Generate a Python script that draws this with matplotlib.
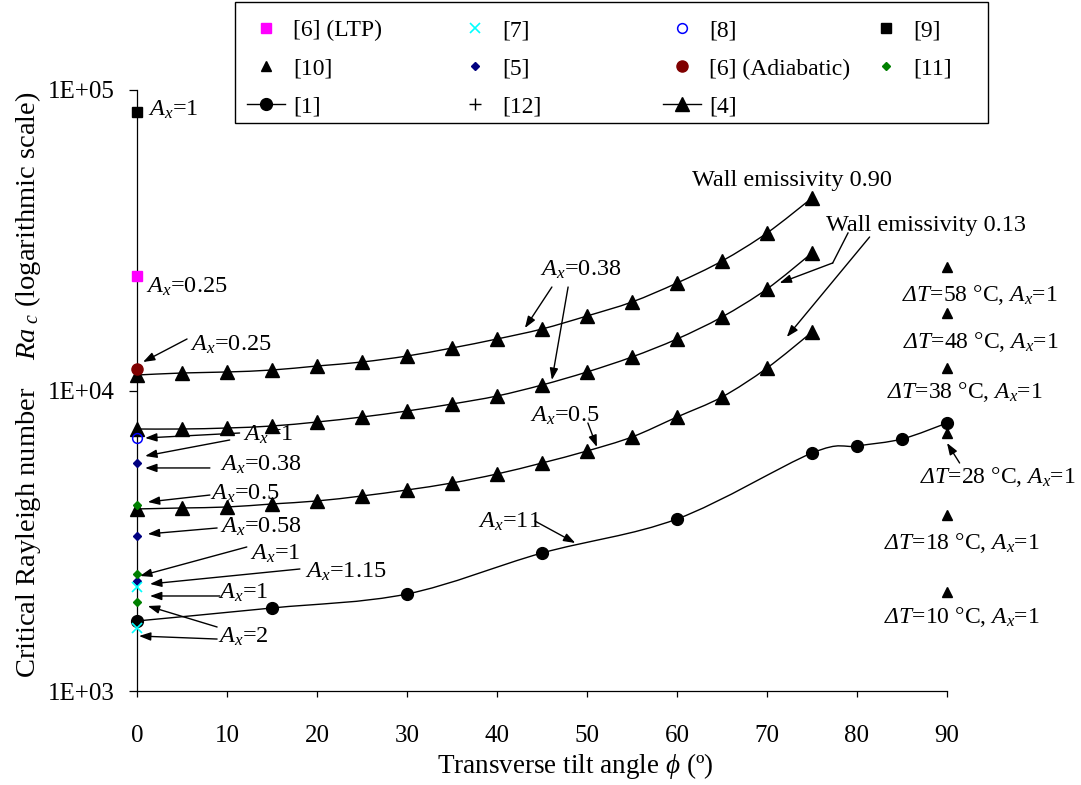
# import packages
import numpy as np
import matplotlib

matplotlib.use("Agg")
import matplotlib.pyplot as plt
from matplotlib.path import Path
from matplotlib.patches import PathPatch, Rectangle
from matplotlib.lines import Line2D
from matplotlib.ticker import NullLocator

# fonts: Times-like serif, math in the same family
plt.rcParams["font.family"] = ["Liberation Serif", "DejaVu Serif"]
plt.rcParams["mathtext.fontset"] = "custom"
plt.rcParams["mathtext.rm"] = "Liberation Serif"
plt.rcParams["mathtext.it"] = "Liberation Serif:italic"
plt.rcParams["mathtext.sf"] = "Liberation Serif:italic"

# data
tilt_4 = [0, 5, 10, 15, 20, 25, 30, 35, 40, 45, 50, 55, 60, 65, 70, 75]
ra_4_ax038_e090 = [11260, 11435, 11525, 11700, 12065, 12440, 13025, 13850,
                   14840, 16020, 17700, 19705, 22790, 26970, 33430, 43710]
ra_4_ax038_e013 = [7445, 7445, 7502, 7619, 7855, 8162, 8547, 9017,
                   9587, 10430, 11525, 12930, 14840, 17565, 21770, 28680]
ra_4_ax05_e013 = [4035, 4065, 4096, 4192, 4290, 4457, 4667, 4923,
                  5275, 5738, 6291, 7004, 8162, 9515, 11880, 15650]

tilt_1 = [0, 15, 30, 45, 60, 75, 80, 85, 90]
ra_1 = [1710, 1889, 2103, 2879, 3736, 6194, 6537, 6897, 7795]

# single studies at phi = 0
ra_6_ltp = [24040]
ra_6_adiabatic = [11790]
ra_7 = [2218, 1620]
ra_8 = [6950]
ra_9 = [84500]
ra_5 = [5738, 3280, 2323]
ra_11 = [4159, 2451, 1979]

# [10] at phi = 90 for several delta T
dt_10 = [58, 48, 38, 28, 18, 10]
ra_10 = [25760, 18110, 11880, 7221, 3852, 2136]

x_ticks = [0, 10, 20, 30, 40, 50, 60, 70, 80, 90]
y_ticks = [1e3, 1e4, 1e5]
y_tick_labels = ["1E+03", "1E+04", "1E+05"]

# annotation text positions (data coords), left aligned
notes = [
    ("$A_x$=1", 1.22, 85800),
    ("$A_x$=0.25", 1.0, 22100),
    ("$A_x$=0.25", 5.9, 14170),
    ("$A_x$=0.38", 44.8, 25180),
    ("Wall emissivity 0.90", 61.7, 49800),
    ("Wall emissivity 0.13", 76.6, 35540),
    ("$A_x$=0.5", 43.7, 8225),
    ("$A_x$=11", 37.9, 3650),
    ("$A_x$=1", 11.8, 7110),
    ("$A_x$=0.38", 9.2, 5650),
    ("$A_x$=0.5", 8.1, 4525),
    ("$A_x$=0.58", 9.2, 3514),
    ("$A_x$=1", 12.6, 2857),
    ("$A_x$=1.15", 18.7, 2489),
    ("$A_x$=1", 9.0, 2119),
    ("$A_x$=2", 9.0, 1512),
]
dt_note_pos = [(93.7, 20790), (93.8, 14500), (92.0, 9886),
               (95.6, 5153), (91.6, 3108), (91.6, 1763)]

# arrows (tail, head)
arrows = [
    ((5.56, 14840), (0.67, 12440)),
    ((46.1, 22100), (43.1, 16140)),
    ((47.9, 22100), (46.1, 10840)),
    ((77.3, 26570), (71.4, 22790)),
    ((81.4, 32420), (72.2, 15070)),
    ((50.1, 7795), (51.1, 6486)),
    ((44.2, 3679), (48.7, 3108)),
    ((91.4, 5738), (90.0, 6689)),
    ((11.4, 7220), (0.9, 6950)),
    ((10.3, 6844), (0.9, 6054)),
    ((8.1, 5524), (0.9, 5524)),
    ((8.1, 4489), (1.2, 4256)),
    ((8.9, 3487), (1.2, 3331)),
    ((12.2, 3015), (0.33, 2414)),
    ((18.1, 2547), (1.44, 2271)),
    ((9.2, 2071), (1.44, 2071)),
    ((8.9, 1633), (1.2, 1918)),
    ((8.9, 1489), (0.22, 1524)),
]
# the bent leader of "Wall emissivity 0.13"
bent_leader = ([79.0, 77.3], [33430, 26570])


def smooth_path(xs, ys):
    # Excel style smoothed line, bezier through points in (x, log y)
    lx = np.asarray(xs, float)
    ly = np.log10(np.asarray(ys, float))
    n = len(lx)
    verts = [(lx[0], ly[0])]
    codes = [Path.MOVETO]
    for i in range(n - 1):
        a = max(i - 1, 0)
        b = min(i + 2, n - 1)
        c1 = (lx[i] + (lx[i + 1] - lx[a]) / 6, ly[i] + (ly[i + 1] - ly[a]) / 6)
        c2 = (lx[i + 1] - (lx[b] - lx[i]) / 6, ly[i + 1] - (ly[b] - ly[i]) / 6)
        verts += [c1, c2, (lx[i + 1], ly[i + 1])]
        codes += [Path.CURVE4] * 3
    verts = [(x, 10 ** y) for x, y in verts]
    return Path(verts, codes)


fig = plt.figure(figsize=(10.81, 7.85), dpi=100)
ax = fig.add_axes([137 / 1081, 1 - 691 / 785, 810 / 1081, 601 / 785])
ax.set_yscale("log")
ax.set_xlim(0, 90)
ax.set_ylim(1e3, 1e5)

# smoothed series with markers
for ys in (ra_4_ax038_e090, ra_4_ax038_e013, ra_4_ax05_e013):
    ax.add_patch(PathPatch(smooth_path(tilt_4, ys), fill=False,
                           edgecolor="black", lw=1.0, zorder=2))
    ax.plot(tilt_4, ys, ls="none", marker="^", ms=9.5, color="black",
            clip_on=False, zorder=3)
ax.add_patch(PathPatch(smooth_path(tilt_1, ra_1), fill=False,
                       edgecolor="black", lw=1.0, zorder=2))
ax.plot(tilt_1, ra_1, ls="none", marker="o", ms=8.5, color="black",
        clip_on=False, zorder=3)

# single points
kw = dict(ls="none", clip_on=False, zorder=4)
ax.plot([0] * len(ra_9), ra_9, marker="s", ms=7, color="black", **kw)
ax.plot([0] * len(ra_6_ltp), ra_6_ltp, marker="s", ms=7, color="#FF00FF", **kw)
ax.plot([0] * len(ra_6_adiabatic), ra_6_adiabatic, marker="o", ms=8,
        color="#800000", **kw)
ax.plot([0] * len(ra_8), ra_8, marker="o", ms=7, mfc="none", mec="#0000FF",
        mew=1.1, **kw)
ax.plot([0] * len(ra_5), ra_5, marker="D", ms=4.5, color="#000080", **kw)
ax.plot([0] * len(ra_11), ra_11, marker="D", ms=4.5, color="#008000", **kw)
ax.plot([0] * len(ra_7), ra_7, marker="x", ms=7, mew=1.2, color="#00FFFF", **kw)
ax.plot([90] * len(ra_10), ra_10, marker="^", ms=6.5, color="black", **kw)

# annotations
for txt, x, y in notes:
    ax.text(x, y, txt, fontsize=17.5, ha="left", va="center")
for dt, (x, y) in zip(dt_10, dt_note_pos):
    ax.text(x, y, "$\\mathsf{\\Delta}T$=%d \u00b0C, $A_x$=1" % dt,
            fontsize=17, ha="center", va="center", clip_on=False)
for tail, head in arrows:
    ax.annotate("", xy=head, xytext=tail, annotation_clip=False,
                arrowprops=dict(arrowstyle="-|>,head_length=0.7,head_width=0.25",
                                mutation_scale=10, lw=1.0, color="black",
                                shrinkA=0, shrinkB=0))
ax.plot(bent_leader[0], bent_leader[1], color="black", lw=1.0, clip_on=False)

# axes styling
for side in ("top", "right"):
    ax.spines[side].set_visible(False)
for side in ("left", "bottom"):
    ax.spines[side].set_linewidth(0.9)
ax.set_xticks(x_ticks)
ax.set_yticks(y_ticks, labels=y_tick_labels)
ax.yaxis.set_minor_locator(NullLocator())
ax.tick_params(axis="x", direction="out", length=4.5, width=0.9, pad=20,
               labelsize=18)
ax.tick_params(axis="y", direction="out", length=5.8, width=0.9, pad=10,
               labelsize=18)
ax.set_xlabel("Transverse tilt angle $\\phi$ (\u00ba)", fontsize=19.5)
ax.xaxis.set_label_coords(0.541, -0.1)
ax.set_ylabel("Critical Rayleigh number    $Ra_{\\ c}$ (logarithmic scale)",
              fontsize=20.5)
ax.yaxis.set_label_coords(-0.116, 0.51)

# legend: four fixed width columns inside one frame
h = {
    "[6] (LTP)": Line2D([], [], ls="none", marker="s", ms=7, color="#FF00FF"),
    "[7]": Line2D([], [], ls="none", marker="x", ms=7, mew=1.2, color="#00FFFF"),
    "[8]": Line2D([], [], ls="none", marker="o", ms=7, mfc="none",
                  mec="#0000FF", mew=1.1),
    "[9]": Line2D([], [], ls="none", marker="s", ms=7, color="black"),
    "[10]": Line2D([], [], ls="none", marker="^", ms=6.5, color="black"),
    "[5]": Line2D([], [], ls="none", marker="D", ms=4.5, color="#000080"),
    "[6] (Adiabatic)": Line2D([], [], ls="none", marker="o", ms=8,
                              color="#800000"),
    "[11]": Line2D([], [], ls="none", marker="D", ms=4.5, color="#008000"),
    "[1]": Line2D([], [], lw=1.0, marker="o", ms=8.5, color="black"),
    "[12]": Line2D([], [], ls="none", marker="+", ms=8, mew=1.0, color="black"),
    "[4]": Line2D([], [], lw=1.0, marker="^", ms=9.5, color="black"),
}
columns = [
    ["[6] (LTP)", "[10]", "[1]"],
    ["[7]", "[5]", "[12]"],
    ["[8]", "[6] (Adiabatic)", "[4]"],
    ["[9]", "[11]"],
]
col_left = [247, 456, 663, 867]
fig.patches.append(Rectangle((235 / 1081, 1 - 123 / 785), 753 / 1081, 121 / 785,
                             transform=fig.transFigure, facecolor="white",
                             edgecolor="black", lw=1.0, zorder=4))
for labels, xl in zip(columns, col_left):
    fig.legend([h[k] for k in labels], labels, loc="upper left",
               bbox_to_anchor=(xl / 1081, 1 - 20 / 785), frameon=False,
               fontsize=17, handlelength=1.6, handletextpad=0.35,
               labelspacing=0.7, borderpad=0, borderaxespad=0)

plt.savefig("out.png", dpi=100)
